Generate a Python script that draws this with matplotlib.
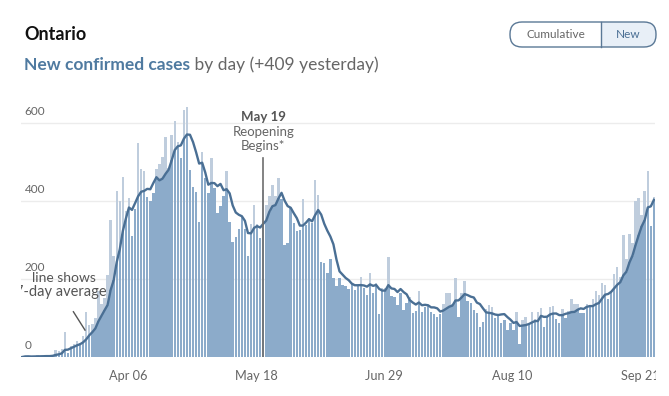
import numpy as np
import pandas as pd
import matplotlib
matplotlib.use("Agg")
import matplotlib.pyplot as plt
from matplotlib.patches import FancyBboxPatch, Rectangle
from matplotlib.transforms import IdentityTransform, ScaledTranslation

# daily new cases, Ontario, Mar 1 - Sep 24 2020
mar = [0, 3, 2, 0, 2, 4, 2, 1, 5, 2, 5, 18, 15, 20, 63, 9, 28, 33, 42, 35,
       54, 116, 81, 85, 100, 170, 135, 151, 211, 351, 260]
apr = [426, 401, 462, 375, 408, 309, 379, 550, 483, 478, 411, 401, 421, 483, 494,
       514, 564, 485, 568, 606, 551, 510, 634, 640, 480, 437, 424, 347, 525, 459]
may = [421, 511, 434, 370, 387, 412, 477, 346, 294, 308, 329, 361, 329, 258, 341,
       391, 340, 304, 427, 390, 413, 441, 412, 460, 404, 287, 292, 383, 344, 323, 326]
jun = [404, 338, 356, 344, 455, 415, 243, 240, 215, 251, 203, 182, 203, 184, 181,
       175, 190, 173, 182, 206, 177, 160, 216, 163, 189, 111, 176, 178, 257, 157]
jul = [153, 134, 165, 121, 138, 154, 112, 118, 170, 116, 129, 130, 116, 111, 102,
       111, 135, 164, 165, 135, 203, 103, 165, 195, 144, 138, 120, 112, 76, 89, 123]
aug = [134, 129, 99, 104, 86, 95, 70, 88, 70, 115, 33, 95, 102, 88, 115,
       97, 116, 125, 77, 105, 129, 131, 98, 87, 124, 100, 118, 148, 135, 136, 112]
sep = [114, 137, 132, 148, 169, 158, 190, 185, 149, 170, 213, 232, 204, 313, 251,
       315, 293, 401, 407, 365, 425, 478, 335, 409]

dates = pd.date_range("2020-03-01", "2020-09-24")
new_cases = np.array(mar + apr + may + jun + jul + aug + sep, dtype=float)

tick_dates = ["2020-04-06", "2020-05-18", "2020-06-29", "2020-08-10", "2020-09-21"]
tick_labels = ["Apr 06", "May 18", "Jun 29", "Aug 10", "Sep 21"]
y_ticks = [0, 200, 400, 600]
reopen_date = "2020-05-19"
yesterday = int(new_cases[-1])

DARK = "#8cabca"
LIGHT = "#bfcddd"
LINE = "#4a6f94"
GREY = "#666666"

avg = pd.Series(new_cases).rolling(7, min_periods=1).mean().values
x = np.arange(len(new_cases))

fig = plt.figure(figsize=(6.69, 3.96), dpi=100)
plt.rcParams["font.family"] = ["Lato", "DejaVu Sans"]

W, H = 669, 396
ax = fig.add_axes([20.6 / W, (H - 357) / H, (655.4 - 20.6) / W, (357 - 100) / H])

for v in y_ticks[1:]:
    ax.axhline(v, color="#ececec", lw=1, zorder=0)

ax.bar(x, new_cases, width=0.8, color=LIGHT, zorder=1)
ax.bar(x, np.minimum(new_cases, avg), width=0.8, color=DARK, zorder=2)
ax.plot(x, avg, color=LINE, lw=1.7, zorder=4)

ax.set_xlim(-0.5, len(x) - 0.5)
ax.set_ylim(0, 659)
for s in ax.spines.values():
    s.set_visible(False)
ax.set_yticks([])

tick_pos = [dates.get_loc(pd.Timestamp(d)) for d in tick_dates]
ax.set_xticks(tick_pos)
ax.set_xticklabels(tick_labels, color=GREY, fontsize=9.2)
ax.tick_params(axis="x", length=0, pad=9)
shift = ScaledTranslation(-4 / 100, 0, fig.dpi_scale_trans)
for lbl in ax.get_xticklabels():
    lbl.set_transform(lbl.get_transform() + shift)

for v in y_ticks:
    ax.annotate(str(v), xy=(0, v), xycoords=("axes fraction", "data"),
                xytext=(4, 6), textcoords="offset pixels",
                ha="left", va="bottom", color=GREY, fontsize=8.5)

# reopening annotation
r = dates.get_loc(pd.Timestamp(reopen_date))
ax.plot([r, r], [0, 510], color="#6e6e6e", lw=1.2, zorder=5)
ax.text(r, 615, "May 19", ha="center", va="center", fontsize=9.5,
        fontweight="bold", color="#555555")
ax.text(r, 577, "Reopening", ha="center", va="center", fontsize=9.5, color=GREY)
ax.text(r, 541, "Begins*", ha="center", va="center", fontsize=9.5, color=GREY)

# 7-day average note
ax.text(13.6, 203, "line shows", ha="center", va="center", fontsize=10,
        color="#555555", clip_on=True, zorder=6)
ax.text(12.8, 166, "7-day average", ha="center", va="center", fontsize=10.5,
        color="#555555", clip_on=True, zorder=6)
ax.plot([16.8, 20.6], [116, 69], color="#555555", lw=1, zorder=6)

# the chart frame cuts the last date label
px = IdentityTransform()
fig.add_artist(Rectangle((656, 0), W - 656, H - 358, facecolor="white",
                         edgecolor="none", transform=px, zorder=10))

# header
fig.text(24 / W, 1 - 35 / H, "Ontario", fontsize=13, fontweight="bold",
         color="#111111", va="center", ha="left")
t1 = fig.text(24 / W, 1 - 70 / H, "New confirmed cases", fontsize=12.5,
              fontweight="bold", color="#4f7aa0", va="baseline", ha="left")
ax.annotate(f" by day (+{yesterday} yesterday)", xy=(1, 0), xycoords=t1,
            va="bottom", ha="left", fontsize=12.5, color=GREY,
            annotation_clip=False)

# toggle buttons
bx0, bx1, by0, by1, split = 510, 656, H - 47, H - 22, 601
pill = FancyBboxPatch((bx0, by0), bx1 - bx0, by1 - by0,
                      boxstyle="round,pad=0,rounding_size=12",
                      facecolor="white", edgecolor="none", transform=px)
fig.add_artist(pill)
sel = Rectangle((split, by0), bx1 - split, by1 - by0, facecolor="#e8eff7",
                edgecolor="none", transform=px)
fig.add_artist(sel)
sel.set_clip_path(pill)
fig.add_artist(plt.Line2D([split, split], [by0, by1], color="#5a7896", lw=1,
                          transform=px))
fig.add_artist(FancyBboxPatch((bx0, by0), bx1 - bx0, by1 - by0,
                              boxstyle="round,pad=0,rounding_size=12",
                              facecolor="none", edgecolor="#5a7896", lw=1,
                              transform=px))
fig.text((bx0 + split) / 2 / W, 1 - 35 / H, "Cumulative", ha="center",
         va="center", fontsize=8.5, color=GREY)
fig.text((split + bx1) / 2 / W, 1 - 35 / H, "New", ha="center",
         va="center", fontsize=8.5, color="#4a6f94")

fig.savefig("out.png", dpi=100)
